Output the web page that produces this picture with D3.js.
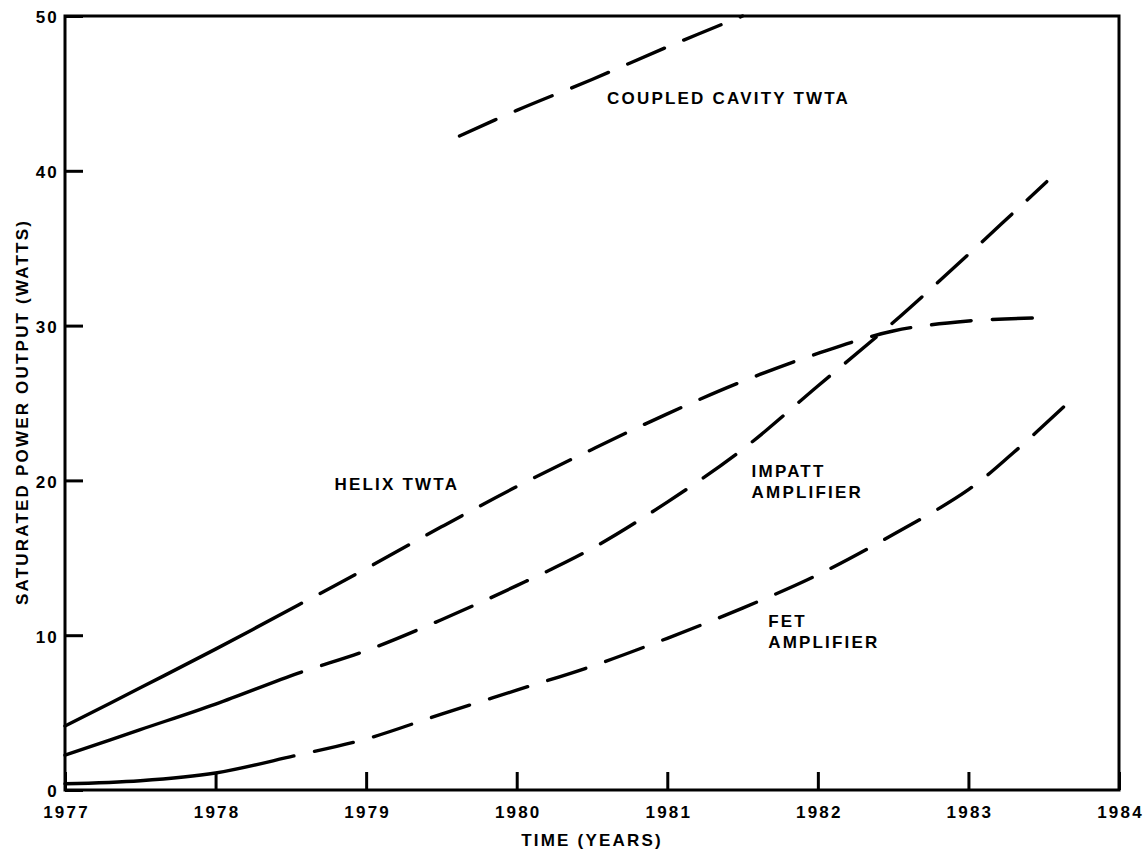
<!DOCTYPE html>
<html>
<head>
<meta charset="utf-8">
<script src="https://cdn.jsdelivr.net/npm/d3@7"></script>
<style>
  body { margin: 0; background: #fff; }
  text { font-family: "Liberation Sans", Arial, sans-serif; font-weight: bold; font-size: 17px; letter-spacing: 2.2px; fill: #000; }
</style>
</head>
<body>
<svg id="chart"></svg>
<script>
// data (years, watts)
const helixYears = [1977, 1977.5, 1978, 1978.55, 1979, 1979.5, 1980, 1980.5, 1981, 1981.5, 1982, 1982.5, 1983, 1983.47];
const helixWatts = [4.13, 6.6, 9.1, 11.95, 14.3, 17.0, 19.6, 22.0, 24.3, 26.4, 28.2, 29.65, 30.3, 30.5];

const impattYears = [1977, 1977.5, 1978, 1978.55, 1979, 1979.5, 1980, 1980.5, 1981, 1981.5, 1982, 1982.5, 1983, 1983.52];
const impattWatts = [2.25, 3.9, 5.55, 7.55, 9.0, 11.0, 13.2, 15.6, 18.6, 22.0, 26.1, 30.2, 34.6, 39.3];

const fetYears = [1977, 1977.5, 1978, 1978.52, 1979, 1979.5, 1980, 1980.5, 1981, 1981.5, 1982, 1982.5, 1983, 1983.3, 1983.65];
const fetWatts = [0.4, 0.6, 1.1, 2.2, 3.3, 4.9, 6.45, 8.0, 9.8, 11.75, 13.9, 16.5, 19.4, 21.8, 24.9];

const cavityYears = [1979.62, 1980, 1980.5, 1981, 1981.5];
const cavityWatts = [42.25, 43.9, 45.9, 48.0, 50.0];

// where the solid (measured) part of each curve ends
const solidUntil = [1978.57, 1978.57, 1978.52, null];

const xTicks = [1977, 1978, 1979, 1980, 1981, 1982, 1983, 1984];
const yTicks = [0, 10, 20, 30, 40, 50];

const labelLines = [["COUPLED CAVITY TWTA"], ["HELIX TWTA"], ["IMPATT", "AMPLIFIER"], ["FET", "AMPLIFIER"]];
const labelYears = [1980.6, 1978.79, 1981.56, 1981.67];
const labelWatts = [44.3, 19.4, 20.2, 10.5];

const width = 1146, height = 853;

const svg = d3.select('#chart')
    .attr('width', width)
    .attr('height', height);

const x = d3.scaleLinear().domain([1977, 1984]).range([65, 1119]);
const y = d3.scaleLinear().domain([0, 50]).range([790, 16]);

// frame
svg.append('rect')
    .attr('x', x(1977))
    .attr('y', y(50))
    .attr('width', x(1984) - x(1977))
    .attr('height', y(0) - y(50))
    .attr('fill', 'none')
    .attr('stroke', '#000')
    .attr('stroke-width', 3);

// axes, ticks pointing inwards
const xAxis = svg.append('g')
    .attr('transform', 'translate(0,' + y(0) + ')')
    .call(d3.axisBottom(x).tickValues(xTicks).tickFormat(d3.format('d'))
        .tickSizeInner(-18).tickSizeOuter(0).tickPadding(16));
const yAxis = svg.append('g')
    .attr('transform', 'translate(' + x(1977) + ',0)')
    .call(d3.axisLeft(y).tickValues(yTicks)
        .tickSizeInner(-18).tickSizeOuter(0).tickPadding(6));

[xAxis, yAxis].forEach(function(g) {
  g.select('.domain').remove();
  g.selectAll('.tick line').attr('stroke', '#000').attr('stroke-width', 3);
  g.selectAll('.tick text')
      .attr('font-family', null)
      .attr('font-size', null);
});
xAxis.selectAll('.tick text').attr('dx', '1px');
yAxis.selectAll('.tick text').attr('dy', '0.4em');

// axis titles
svg.append('text')
    .attr('x', (x(1977) + x(1984)) / 2)
    .attr('y', 846)
    .attr('text-anchor', 'middle')
    .text('TIME (YEARS)');

svg.append('text')
    .attr('transform', 'translate(28,412)rotate(-90)')
    .attr('text-anchor', 'middle')
    .text('SATURATED POWER OUTPUT (WATTS)');

// curves
const series = [
  {years: helixYears, watts: helixWatts},
  {years: impattYears, watts: impattWatts},
  {years: fetYears, watts: fetWatts},
  {years: cavityYears, watts: cavityWatts}
];

const line = d3.line()
    .x(d => x(d[0]))
    .y(d => y(d[1]))
    .curve(d3.curveCatmullRom.alpha(0.5));

const dash = 40, gap = 21;

function dashArray(node, breakYear) {
  const total = node.getTotalLength();
  const arr = [];
  let len = 0;
  if (breakYear != null) {
    // find the length along the path where the solid part stops
    let lo = 0, hi = total;
    const bx = x(breakYear);
    for (let i = 0; i < 30; i++) {
      const mid = (lo + hi) / 2;
      if (node.getPointAtLength(mid).x < bx) lo = mid; else hi = mid;
    }
    arr.push(lo, gap);
    len = lo + gap;
  }
  while (len < total + dash) {
    arr.push(dash, gap);
    len += dash + gap;
  }
  return arr.join(' ');
}

series.forEach(function(s, i) {
  const pts = s.years.map((yr, j) => [yr, s.watts[j]]);
  const path = svg.append('path')
      .datum(pts)
      .attr('d', line)
      .attr('fill', 'none')
      .attr('stroke', '#000')
      .attr('stroke-width', 3.4)
      .attr('stroke-linecap', 'round');
  path.attr('stroke-dasharray', dashArray(path.node(), solidUntil[i]));
});

// curve labels
labelLines.forEach(function(lines, i) {
  const t = svg.append('text')
      .attr('x', x(labelYears[i]))
      .attr('y', y(labelWatts[i]));
  lines.forEach(function(l, k) {
    t.append('tspan')
        .attr('x', x(labelYears[i]))
        .attr('dy', k === 0 ? 0 : 21)
        .text(l);
  });
});
</script>
</body>
</html>
